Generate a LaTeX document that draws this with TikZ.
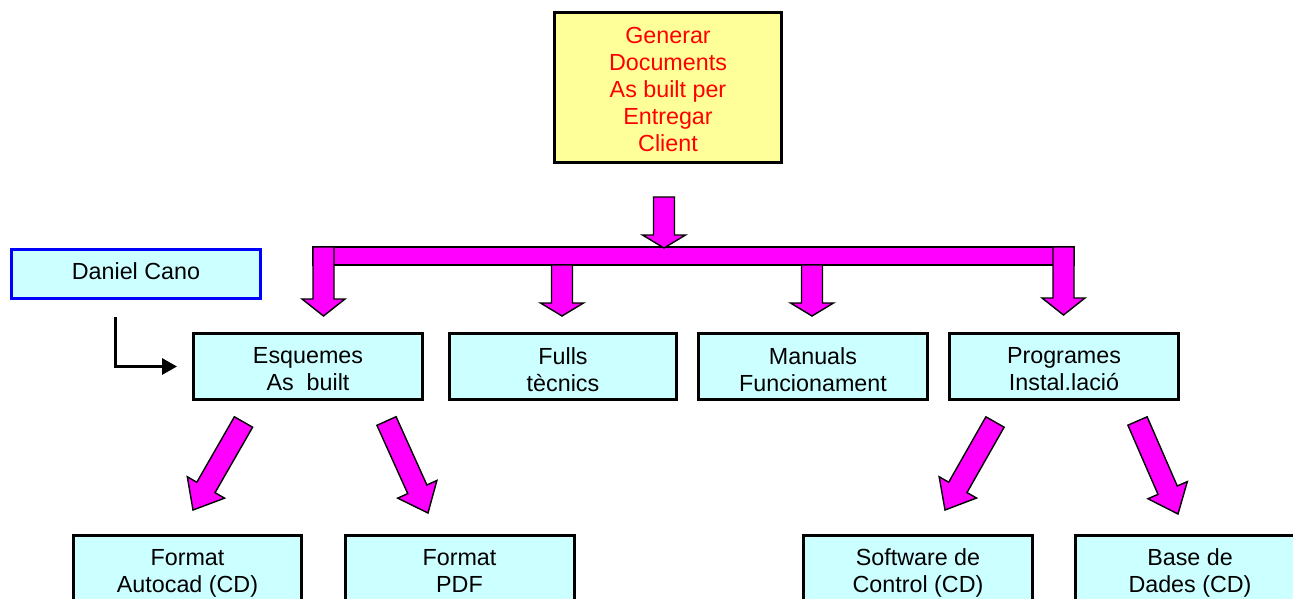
\documentclass[tikz,border=0pt]{standalone}
\usepackage{fontspec}
\setmainfont{Liberation Sans}
\usetikzlibrary{calc,arrows.meta}
\definecolor{boxyellow}{HTML}{FFFF99}
\definecolor{boxcyan}{HTML}{CCFFFF}
\definecolor{fatmagenta}{HTML}{FF00FF}
\definecolor{boxblue}{HTML}{0000FF}
\definecolor{txtred}{HTML}{FF0000}

% block arrow: [head length]{tail}{tip}
\newcommand\fatarrow[3][17]{%
  \coordinate (fa-h) at ($(#3)!#1pt!(#2)$);
  \filldraw[fat] ($(#2)!10.5pt!90:(#3)$) -- ($(fa-h)!10.5pt!90:(#3)$)
    -- ($(fa-h)!21.5pt!90:(#3)$) -- (#3) -- ($(fa-h)!21.5pt!-90:(#3)$)
    -- ($(fa-h)!10.5pt!-90:(#3)$) -- ($(#2)!10.5pt!-90:(#3)$) -- cycle;
}

\tikzset{
  basetxt/.style={font=\fontsize{23.3}{27}\selectfont, align=center, inner sep=0pt},
  txt/.style={basetxt, execute at begin node=\strut, execute at end node=\strut},
  % frame styles; the text is set as a centred label, lowered a little
  frame/.style={draw=black, line width=3pt, fill=boxcyan, minimum width=229pt, minimum height=66pt, inner sep=0pt},
  boxtext/.style={label={[txt, yshift=-7pt]center:{#1}}},
  lowtext/.style={label={[txt, yshift=-4pt]center:{#1}}},
  toptext/.style={label={[txt, text=txtred, yshift=-6pt]center:{#1}}},
  topbox/.style={frame, line width=3.5pt, fill=boxyellow, minimum width=227pt, minimum height=150pt},
  namebox/.style={basetxt, draw=boxblue, line width=3pt, fill=boxcyan, minimum width=249pt, minimum height=49pt},
  lowbox/.style={frame, minimum height=71pt},
  fat/.style={fill=fatmagenta, draw=black, line width=1.4pt, line join=miter},
  elbow/.style={draw=black, line width=3pt, -{Triangle[length=15pt,width=16pt]}, shorten >=15pt}
}

\begin{document}
\begin{tikzpicture}[x=1pt, y=-1pt]
  \useasboundingbox (0,0) rectangle (1293,599);
  \clip (0,0) rectangle (1293,599);
  \fill[white] (0,0) rectangle (1293,599);

  % boxes
  \node[topbox, toptext={Generar\\Documents\\As built per\\Entregar\\Client}] (top) at (668,87.5) {};
  \node[namebox] (dan) at (136,274) {\strut Daniel Cano};
  \node[frame, boxtext={Esquemes\\As\ \ built}] (esq) at (308,366.5) {};
  \node[frame, minimum width=227pt, boxtext={Fulls\\tècnics}] (fulls) at (563,366.5) {};
  \node[frame, boxtext={Manuals\\Funcionament}] (man) at (813,366.5) {};
  \node[frame, boxtext={Programes\\Instal.lació}] (prog) at (1064,366.5) {};
  \node[lowbox, minimum width=228pt, lowtext={Format\\Autocad (CD)}] (acad) at (187.5,571) {};
  \node[lowbox, lowtext={Format\\PDF}] (pdf) at (459.5,571) {};
  \node[lowbox, lowtext={Software de\\Control (CD)}] (soft) at (918,571) {};
  \node[lowbox, lowtext={Base de\\Dades (CD)}] (base) at (1190,571) {};

  % distribution bar and arrows
  \coordinate (t0) at (664,197);
  \coordinate (t1) at (664,248);
  \filldraw[fat] (313,247) rectangle (1074,265);
  \fatarrow[13]{t0}{t1}

  \coordinate (e0) at (323.5,247);   \coordinate (e1) at (323.5,316);
  \coordinate (f0) at (562,265);     \coordinate (f1) at (562,316);
  \coordinate (m0) at (812,265);     \coordinate (m1) at (812,316);
  \coordinate (p0) at (1063.5,247);  \coordinate (p1) at (1063.5,315);
  \fatarrow{e0}{e1}
  \fatarrow[13]{f0}{f1}
  \fatarrow[13]{m0}{m1}
  \fatarrow{p0}{p1}

  % second level arrows
  \coordinate (a0) at (243.5,422);   \coordinate (a1) at (193,510);
  \coordinate (b0) at (386.5,421);   \coordinate (b1) at (428,513);
  \coordinate (c0) at (995,422);     \coordinate (c1) at (945,510);
  \coordinate (d0) at (1137.5,421);  \coordinate (d1) at (1178,514);
  \fatarrow[26]{a0}{a1}
  \fatarrow[26]{b0}{b1}
  \fatarrow[26]{c0}{c1}
  \fatarrow[26]{d0}{d1}

  % link from the name box
  \coordinate (dstart) at (115,317);
  \draw[elbow] (dstart) |- (esq.west);
\end{tikzpicture}
\end{document}
